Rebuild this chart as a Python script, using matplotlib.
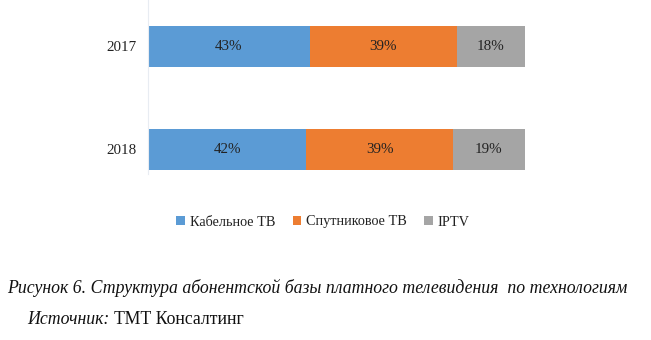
import matplotlib
matplotlib.use("Agg")
import matplotlib.pyplot as plt
from matplotlib.patches import Patch

years = ["2017", "2018"]
series_names = ["Кабельное ТВ", "Спутниковое ТВ", "IPTV"]
cable = [43, 42]
satellite = [39, 39]
iptv = [18, 19]
colors = ["#5B9BD5", "#ED7D31", "#A5A5A5"]

caption = "Рисунок 6. Структура абонентской базы платного телевидения  по технологиям"
source_label = "Источник:"
source_name = "ТМТ Консалтинг"

plt.rcParams["font.family"] = ["Liberation Serif", "DejaVu Serif"]

fig = plt.figure(figsize=(6.51, 3.40), dpi=100)
ax = fig.add_axes([148 / 651, 1 - 174 / 340, 376.5 / 651, 174 / 340])

y = list(range(len(years)))
left = [0] * len(years)
for vals, col in zip([cable, satellite, iptv], colors):
    bars = ax.barh(y, vals, left=left, height=0.4, color=col, edgecolor="none")
    for b, v in zip(bars, vals):
        ax.text(b.get_x() + b.get_width() / 2, b.get_y() + b.get_height() / 2,
                f"{v}%", ha="center", va="center", fontsize=10.8, color="#222222")
    left = [l + v for l, v in zip(left, vals)]

ax.set_xlim(0, 100)
ax.set_ylim(1.238, -0.451)
ax.set_yticks(y)
ax.set_yticklabels(years, fontsize=10.8, color="#222222")
ax.tick_params(axis="y", length=0, pad=8.5)
ax.set_xticks([])
for side in ["top", "right", "bottom"]:
    ax.spines[side].set_visible(False)
ax.spines["left"].set_color("#E8ECF2")
ax.spines["left"].set_linewidth(0.8)

handles = [Patch(facecolor=c, edgecolor="none", label=n) for c, n in zip(colors, series_names)]
fig.legend(handles=handles, loc="center", bbox_to_anchor=(323 / 651, 1 - 222 / 340),
           ncol=3, frameon=False, fontsize=10.3, handlelength=0.6, handleheight=0.6,
           handletextpad=0.35, columnspacing=1.2, labelcolor="#222222")

fig.text(7 / 651, 1 - 288 / 340, caption, ha="left", va="center",
         fontsize=12.8, style="italic", color="#111111")
t = fig.text(27 / 651, 1 - 320 / 340, source_label + " ", ha="left", va="center",
             fontsize=12.8, style="italic", color="#111111")
fig.canvas.draw()
bb = t.get_window_extent()
fig.text(bb.x1 / fig.bbox.width, 1 - 320 / 340, source_name, ha="left", va="center",
         fontsize=12.8, color="#111111")

fig.savefig("out.png", dpi=100)
